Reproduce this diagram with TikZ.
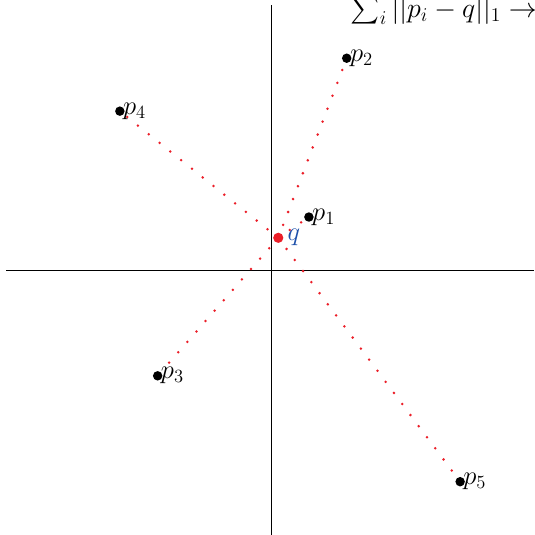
\documentclass[tikz,border=0pt]{standalone}
\usepackage{fix-cm}
\usepackage{amsmath}
\usepackage{xcolor}
\definecolor{qred}{RGB}{235,30,40}
\definecolor{qblue}{RGB}{30,80,170}
\newcommand{\biglab}{\fontsize{20}{24}\selectfont}
\tikzset{
  pt/.style={circle, fill=black, inner sep=0pt, minimum size=0.25cm},
  qpt/.style={circle, fill=qred, inner sep=0pt, minimum size=0.27cm},
  link/.style={qred, line width=2.1pt, dash pattern=on 0pt off 10.4pt, line cap=round},
  plab/.style={anchor=west, inner sep=0pt, xshift=0.08cm}
}
\begin{document}
\begin{tikzpicture}[x=1cm,y=1cm]
\useasboundingbox (-7.17,-7.01) rectangle (6.96,7.14);
\draw (-7.0,0) -- (6.96,0);
\draw (0,7.0) -- (0,-7.01);
\node[pt] (p1) at (1.0,1.4) {};
\node[pt] (p2) at (2.0,5.6) {};
\node[pt] (p3) at (-3.0,-2.8) {};
\node[pt] (p4) at (-4.0,4.2) {};
\node[pt] (p5) at (5.0,-5.6) {};
\coordinate (qc) at (0.19,0.85);
\foreach \p in {p1,p2,p3,p4,p5}
  \draw[link] (qc) -- (\p);
\node[qpt] (q) at (qc) {};
\foreach \p/\i in {p1/1,p2/2,p3/3,p4/4,p5/5}
  \node[plab] (lab\i) at (\p.center) {\biglab $p_\i$};
\node[anchor=west, inner sep=0pt, xshift=0.24cm, text=qblue] (qlab) at (q.center) {\biglab $q$};
\node[anchor=base west, inner sep=0pt, font=\fontsize{21}{25}\selectfont] (cost) at (2.1,6.69) {$\sum_i ||p_i - q||_1 \to$};
\end{tikzpicture}
\end{document}
